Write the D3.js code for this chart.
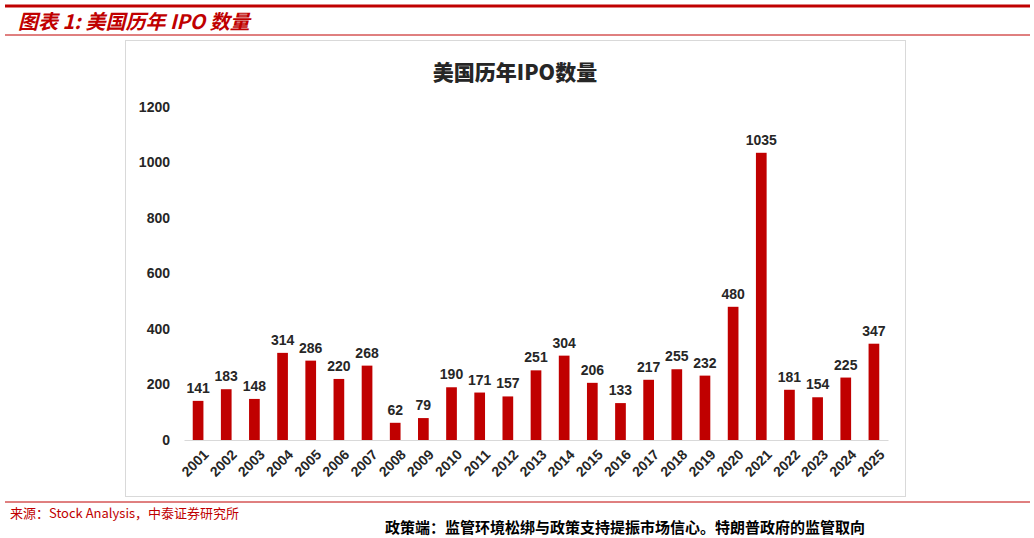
<!DOCTYPE html>
<html><head><meta charset="utf-8">
<script src="https://cdn.jsdelivr.net/npm/d3@7"></script>
<style>body{margin:0;background:#fff;overflow:hidden}svg{display:block}</style>
</head><body><div id="chart"></div>
<script>
const years = ["2001","2002","2003","2004","2005","2006","2007","2008","2009","2010","2011","2012","2013","2014","2015","2016","2017","2018","2019","2020","2021","2022","2023","2024","2025"];
const ipoCounts = [141,183,148,314,286,220,268,62,79,190,171,157,251,304,206,133,217,255,232,480,1035,181,154,225,347];
const yTicks = [0,200,400,600,800,1000,1200];

const svg = d3.select("#chart").append("svg").attr("width",1034).attr("height",538);
const red = "#c00000";
const cjk = "'Noto Sans CJK SC', sans-serif";

// page header
svg.append("line").attr("x1",5).attr("x2",1030).attr("y1",6).attr("y2",6).attr("stroke",red).attr("stroke-width",3);
svg.append("text").attr("x",18).attr("y",29).attr("fill",red).style("font-family",cjk)
  .style("font-size","20px").style("font-style","italic").style("font-weight","bold").text("图表 1:  美国历年 IPO 数量");
svg.append("line").attr("x1",5).attr("x2",1030).attr("y1",35).attr("y2",35).attr("stroke",red).attr("stroke-width",1);

// chart frame
svg.append("rect").attr("x",125.5).attr("y",40.5).attr("width",780).attr("height",456).attr("fill","#fff").attr("stroke","#d9d9d9");
svg.append("text").attr("x",515).attr("y",80).attr("text-anchor","middle").style("font-family",cjk)
  .style("font-size","21px").style("font-weight","900").attr("fill","#262626").text("美国历年IPO数量");

const x = d3.scaleBand().domain(years).range([184,888]).paddingInner(0.62).paddingOuter(0.31);
const y = d3.scaleLinear().domain([0,1200]).range([440,107]);

const g = svg.append("g");
g.selectAll("rect.bar").data(ipoCounts).join("rect").attr("class","bar")
  .attr("x",(d,i)=>x(years[i])).attr("width",x.bandwidth())
  .attr("y",d=>y(d)).attr("height",d=>y(0)-y(d)).attr("fill",red);
g.selectAll("text.val").data(ipoCounts).join("text").attr("class","val")
  .attr("x",(d,i)=>x(years[i])+x.bandwidth()/2).attr("y",d=>y(d)-8)
  .attr("text-anchor","middle").style("font-family","'Liberation Sans', Arial").style("font-size","14px")
  .style("font-weight","bold").attr("fill","#262626").text(d=>d);

const yAxis = svg.append("g").attr("transform","translate(170,0)")
  .call(d3.axisLeft(y).tickValues(yTicks).tickFormat(d3.format("d")).tickSize(0).tickPadding(0));
yAxis.select(".domain").remove();
yAxis.selectAll("text").style("font-family","'Liberation Sans', Arial").style("font-size","14px")
  .style("font-weight","bold").attr("fill","#262626");

const xAxis = svg.append("g").attr("transform","translate(0,440)")
  .call(d3.axisBottom(x).tickSize(0).tickPadding(0));
xAxis.select(".domain").attr("stroke","#d9d9d9");
xAxis.selectAll("text").attr("text-anchor","end").attr("dy","0.35em")
  .attr("transform","translate(8,12) rotate(-45)")
  .style("font-family","'Liberation Sans', Arial").style("font-size","14px")
  .style("font-weight","bold").attr("fill","#262626");

// footer
svg.append("line").attr("x1",5).attr("x2",1030).attr("y1",502).attr("y2",502).attr("stroke",red).attr("stroke-width",1);
svg.append("text").attr("x",10).attr("y",518).attr("fill",red).style("font-family",cjk)
  .style("font-size","13px").text("来源：Stock Analysis，中泰证券研究所");
svg.append("text").attr("x",385).attr("y",533).style("font-family",cjk).style("font-size","15px")
  .style("font-weight","bold").attr("fill","#000").text("政策端：监管环境松绑与政策支持提振市场信心。特朗普政府的监管取向");
</script></body></html>
